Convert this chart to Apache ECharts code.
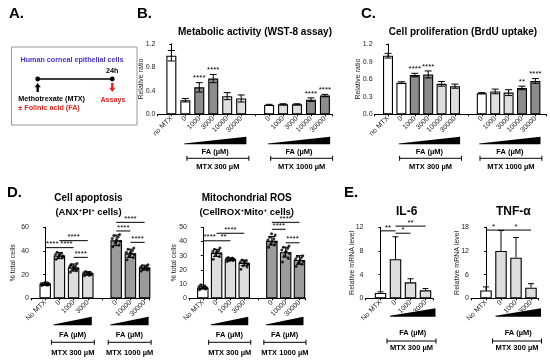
<!DOCTYPE html>
<html><head><meta charset="utf-8">
<script src="https://cdn.jsdelivr.net/npm/echarts@6/dist/echarts.min.js"></script>
<style>html,body{margin:0;padding:0;background:#fff}#c{width:550px;height:360px}</style>
</head><body><div id="c"></div>
<script>
// ---------------- DATA ----------------
// Panels B & C : categories (blank = gap between MTX groups)
const catsBC = ['no MTX','0','1000','3000','10000','30000','','0','1000','3000','10000','30000'];
const wstMean = [1.00,0.24,0.46,0.61,0.31,0.27,null,0.16,0.17,0.17,0.25,0.32];
const wstErr  = [0.09,0.03,0.08,0.07,0.06,0.06,null,0.01,0.01,0.01,0.03,0.02];
const wstSig  = ['','','****','****','','','','','','','****','****'];
const brduMean = [1.00,0.54,0.67,0.68,0.52,0.48,null,0.36,0.39,0.37,0.45,0.57];
const brduErr  = [0.04,0.015,0.03,0.06,0.04,0.035,null,0.01,0.04,0.05,0.03,0.04];
const brduSig  = ['','','****','****','','','','','','','**','****'];
const shadeBC  = ['w','w','d','d','l','l','','w','l','l','d','d'];
const yTicksB = [0,0.4,0.8,1.2];
const yTicksC = [0,0.3,0.6,0.9,1.2];

// Panel D
const catsD1 = ['No MTX','0','1000','3000','','0','10000','30000'];
const catsD2 = ['No MTX','0','1000','3000','','0','10000','30000'];
const apopMean = [12,36,26,21,null,49,38,26];
const apopSD   = [1,2.5,3,1.5,null,4.5,3.5,2];
const apopPts = [
  [10.8,11.3,11.8,12,12.2,12.6,13.1,11.6,12.4,13.4,11.2],
  [33,34.2,35,35.8,36.4,37,38,39,35.4,36.8],
  [22,23.2,24.1,25,25.8,26.6,27.4,28.3,29.5,26.2,24.6,27.9],
  [19,19.8,20.3,20.8,21.2,21.6,22.1,22.6,20.5,21.4,19.5],
  [],
  [43.5,45,46.8,48.2,49.5,50.6,51.8,52.9,54,47.6],
  [32.5,34.5,35.8,37,38,39,40.2,41.5,42.6,38.4],
  [23,24,24.6,25.2,25.8,26.4,27,27.6,28.3,25.5]
];
const apopSig = [[0,1,42.8,'****'],[1,2,42.8,'****'],[1,3,48.7,'****'],[2,3,34.6,'****'],
                 [5,7,64.2,'****'],[5,6,56.9,'****'],[6,7,47.3,'****']];
const rosMean = [7.5,32,27.5,25,null,40.5,32.5,27];
const rosSD   = [1,2.5,1,2,null,3,3.5,3];
const rosPts = [
  [6,6.5,7,7.4,7.8,8.2,8.8,9.5,7.2,7.9],
  [27.5,29.5,30.5,31.5,32,33,33.5,34.5,35.5,32.4],
  [26,26.6,27,27.3,27.7,28,28.3,28.8,27.5,26.8],
  [20.5,22,23,24,24.8,25.5,26.2,27,24.2,25.9],
  [],
  [36,37.5,38.5,39.5,40.2,41,42,43,44.5,45.5],
  [25.5,28,30,31.5,33,34,35,36,36.8,32.6],
  [22.5,24,25,26,26.8,27.6,28.5,29.5,30,24.6]
];
const rosSig = [[0,1,40.5,'****'],[1,2,40.5,'**'],[1,3,45.8,'****'],
                [5,7,53.5,'****'],[5,6,48.6,'****'],[6,7,39.1,'****']];

// Panel E
const catsE = ['No MTX','0','1000','3000'];
const il6Mean = [0.9,6.6,2.7,1.35];
const il6Err  = [0.2,3.8,0.6,0.3];
const il6Sig  = [[0,1,11.4,'**'],[1,2,11.0,'*'],[1,3,12.2,'**']];
const tnfMean = [2.0,12.0,10.3,2.7];
const tnfErr  = [0.9,5.2,5.1,1.0];
const tnfSig  = [[0,1,17.3,'*'],[1,3,17.3,'*']];

const faLabel = 'FA (\u00b5M)';
const mtxLabels = ['MTX 300 \u00b5M','MTX 1000 \u00b5M'];

// ---------------- STYLE / BUILD ----------------
const FAM = '"Liberation Sans", Arial, Helvetica, sans-serif';
const COLORS = {w:'#ffffff', l:'#dedede', d:'#8c8c8c', m:'#9c9c9c'};
const chart = echarts.init(document.getElementById('c'));

const grids = [
  {left:157.4, top:44, width:174.5, height:70.3},   // B
  {left:374.6, top:44, width:171.5, height:70.3},   // C
  {left:31,    top:227.3, width:118.3, height:71},  // D1
  {left:189,   top:227.3, width:116,   height:71},  // D2
  {left:365.5, top:227.3, width:67.5,  height:71},  // E1
  {left:471,   top:227.3, width:67.5,  height:71}   // E2
];
const xMax = [11.5, 11.8, 7.33, 7.4, 3.5, 3.5];
const xCats = [catsBC, catsBC, catsD1, catsD2, catsE, catsE];

function xAx(gi){
  const cats = xCats[gi];
  return {type:'value', gridIndex:gi, min:-1, max:xMax[gi], interval:1,
    axisLine:{show:true, onZero:false, lineStyle:{color:'#000', width:1}},
    axisTick:{show:true, length:2, lineStyle:{color:'#000', width:1}},
    splitLine:{show:false},
    axisLabel:{rotate:45, fontSize:7, color:'#222', margin:3, fontFamily:FAM,
      formatter:v => (Number.isInteger(v) && v>=0 && v<cats.length) ? cats[v] : ''}};
}
function yAx(gi, ticks, name, gap, dec){
  return {type:'value', gridIndex:gi, min:ticks[0], max:ticks[ticks.length-1], interval:ticks[1]-ticks[0],
    name, nameLocation:'middle', nameGap:gap, nameRotate:90, nameMoveOverlap:false,
    nameTextStyle:{fontSize:7, color:'#222', fontFamily:FAM},
    axisLine:{show:true, lineStyle:{color:'#000', width:1}},
    axisTick:{show:true, length:2, lineStyle:{color:'#000'}},
    splitLine:{show:false},
    axisLabel:{fontSize:7, color:'#222', margin:2, fontFamily:FAM,
      formatter:v => dec ? v.toFixed(dec) : String(v)}};
}
function barSeries(gi, means, shades, bw){
  const data = [];
  means.forEach((m,i)=>{ if(m!=null) data.push({value:[i,m], itemStyle:{color:COLORS[shades[i]]}}); });
  return {type:'bar', xAxisIndex:gi, yAxisIndex:gi, barWidth:bw, z:2, data,
    itemStyle:{borderColor:'#000', borderWidth:1.1}};
}
function errSeries(gi, means, errs, sigs, upperOnly, cap){
  const idx = []; means.forEach((m,i)=>{ if(m!=null) idx.push(i); });
  return {type:'custom', xAxisIndex:gi, yAxisIndex:gi, z:10, silent:true, clip:false,
    data: idx.map(i=>[i, means[i]]), encode:{x:0, y:1},
    renderItem:(params, api)=>{
      const i = idx[params.dataIndex], m = means[i], e = errs[i];
      const pT = api.coord([i, m+e]), pB = api.coord([i, upperOnly ? m : m-e]);
      const ls = {stroke:'#000', lineWidth:1};
      const ch = [
        {type:'line', shape:{x1:pT[0], y1:pT[1], x2:pB[0], y2:pB[1]}, style:ls},
        {type:'line', shape:{x1:pT[0]-cap, y1:pT[1], x2:pT[0]+cap, y2:pT[1]}, style:ls}];
      if(!upperOnly) ch.push({type:'line', shape:{x1:pB[0]-cap, y1:pB[1], x2:pB[0]+cap, y2:pB[1]}, style:ls});
      if(sigs && sigs[i]) ch.push({type:'text', style:{text:sigs[i], x:pT[0], y:pT[1]-0.5,
        align:'center', verticalAlign:'bottom', font:'8px '+FAM, fill:'#000'}});
      return {type:'group', children:ch};
    }};
}
function dotSeries(gi, pts){
  const jit = [-0.24,0.2,-0.08,0.28,0.04,-0.28,0.14,-0.16,0.24,-0.02,0.1,-0.2];
  const data = [];
  pts.forEach((arr,i)=>arr.forEach((v,k)=>data.push([i + jit[k%jit.length], v])));
  return {type:'scatter', xAxisIndex:gi, yAxisIndex:gi, z:6, symbolSize:3, silent:true,
    itemStyle:{color:'#000'}, data};
}
function sigSeries(gi, brs){
  return {type:'custom', xAxisIndex:gi, yAxisIndex:gi, z:11, silent:true, clip:false,
    data: brs.map(b=>[b[0], b[2]]), encode:{x:0, y:1},
    renderItem:(params, api)=>{
      const b = brs[params.dataIndex];
      const a = api.coord([b[0], b[2]]), c = api.coord([b[1], b[2]]);
      return {type:'group', children:[
        {type:'line', shape:{x1:a[0], y1:a[1], x2:c[0], y2:c[1]}, style:{stroke:'#000', lineWidth:1}},
        {type:'text', style:{text:b[3], x:(a[0]+c[0])/2, y:a[1]+0.5, align:'center', verticalAlign:'bottom',
          font:'8px '+FAM, fill:'#000'}}]};
    }};
}
function decorSeries(gi, groups, o){
  return {type:'custom', xAxisIndex:gi, yAxisIndex:gi, z:12, silent:true, clip:false,
    data: groups.map(g=>[g[0], 0]), encode:{x:0, y:1},
    renderItem:(params, api)=>{
      const g = groups[params.dataIndex];
      const p1 = api.coord([g[0], 0]), p2 = api.coord([g[1], 0]);
      const y0 = p1[1];
      const wl = p1[0]+o.wL, wr = p2[0]+o.wR, bl = p1[0]+o.bL, br = p2[0]+o.bR;
      const ls = {stroke:'#000', lineWidth:1};
      return {type:'group', children:[
        {type:'polygon', shape:{points:[[wl, y0+o.wBot-0.9],[wr, y0+o.wTop],[wr, y0+o.wBot],[wl, y0+o.wBot]]}, style:{fill:'#000'}},
        {type:'text', style:{text:faLabel, x:(wl+wr)/2, y:y0+o.fa, align:'center', verticalAlign:'middle',
          font:'bold 7.5px '+FAM, fill:'#000'}},
        {type:'line', shape:{x1:bl, y1:y0+o.br, x2:br, y2:y0+o.br}, style:ls},
        {type:'line', shape:{x1:bl, y1:y0+o.br-2.5, x2:bl, y2:y0+o.br+2.5}, style:ls},
        {type:'line', shape:{x1:br, y1:y0+o.br-2.5, x2:br, y2:y0+o.br+2.5}, style:ls},
        {type:'text', style:{text:g[2], x:(bl+br)/2, y:y0+o.mtx, align:'center', verticalAlign:'middle',
          font:'bold 7.5px '+FAM, fill:'#000'}}]};
    }};
}

const offB = {wL:-1.2, wR:5.2, bL:1.6, bR:7.7, wTop:22.4, wBot:30, fa:37.4, br:44, mtx:52.4};
const offC = {wL:-2.6, wR:5.1, bL:-1.8, bR:6.5, wTop:22.4, wBot:30, fa:37.4, br:44, mtx:52.4};
const offD = {wL:-6, wR:4, bL:-8, bR:6.5, wTop:18.4, wBot:27, fa:36.7, br:44, mtx:54.4};
const offE = {wL:-5.5, wR:10, bL:-8.5, bR:10.5, wTop:10, wBot:18.4, fa:35, br:42.7, mtx:50};

const supRich = {s:{fontSize:6, fontWeight:'bold', fontFamily:FAM, verticalAlign:'top', fill:'#000'}};
function txt(x, y, text, font, fill, align){
  return {type:'text', x, y, silent:true, style:{text, font, fill:fill||'#000', align:align||'center',
    textAlign:align||'center', verticalAlign:'middle', textVerticalAlign:'middle'}};
}
const graphic = [
  txt(9, 14, 'A.', 'bold 15px '+FAM, '#000', 'left'),
  txt(137, 14, 'B.', 'bold 15px '+FAM, '#000', 'left'),
  txt(361, 14, 'C.', 'bold 15px '+FAM, '#000', 'left'),
  txt(7, 193, 'D.', 'bold 15px '+FAM, '#000', 'left'),
  txt(344, 193, 'E.', 'bold 15px '+FAM, '#000', 'left'),
  txt(255, 32.5, 'Metabolic activity (WST-8 assay)', 'bold 10px '+FAM),
  txt(463, 32.5, 'Cell proliferation (BrdU uptake)', 'bold 10px '+FAM),
  txt(88.5, 198.5, 'Cell apoptosis', 'bold 10px '+FAM),
  {type:'text', x:88.5, y:212, silent:true, style:{text:'(ANX{s|+}PI{s|+} cells)', font:'bold 9.5px '+FAM,
    fill:'#000', align:'center', verticalAlign:'middle', rich:supRich}},
  txt(246.7, 198.5, 'Mitochondrial ROS', 'bold 10px '+FAM),
  {type:'text', x:246.7, y:212, silent:true, style:{text:'(CellROX{s|+}Mito{s|+} cells)', font:'bold 9.5px '+FAM,
    fill:'#000', align:'center', verticalAlign:'middle', rich:supRich}},
  txt(406.7, 211.5, 'IL-6', 'bold 12px '+FAM),
  txt(513.3, 211.5, 'TNF-\u03b1', 'bold 12px '+FAM),
  // Panel A schematic
  {type:'rect', silent:true, shape:{x:11.5, y:47, width:125.5, height:78}, style:{fill:'none', stroke:'#9a9a9a', lineWidth:1}},
  txt(72, 60, 'Human corneal epithelial cells', 'bold 7.2px '+FAM, '#4433dd'),
  {type:'line', silent:true, shape:{x1:37.7, y1:79, x2:112.3, y2:79}, style:{stroke:'#000', lineWidth:1.4}},
  {type:'circle', silent:true, shape:{cx:37.7, cy:79, r:2.4}, style:{fill:'#000'}},
  {type:'circle', silent:true, shape:{cx:112.3, cy:79, r:2.4}, style:{fill:'#000'}},
  txt(112.3, 71.5, '24h', 'bold 7.2px '+FAM),
  {type:'polygon', silent:true, shape:{points:[[37.7,83],[40.8,87.2],[38.9,87.2],[38.9,92],[36.5,92],[36.5,87.2],[34.6,87.2]]}, style:{fill:'#000'}},
  {type:'polygon', silent:true, shape:{points:[[112.3,92],[115.4,87.8],[113.5,87.8],[113.5,83],[111.1,83],[111.1,87.8],[109.2,87.8]]}, style:{fill:'#e8231f'}},
  txt(18.3, 99.3, 'Methotrexate (MTX)', 'bold 7.2px '+FAM, '#000', 'left'),
  txt(18.3, 108.5, '\u00b1 Folinic acid (FA)', 'bold 7.2px '+FAM, '#e8231f', 'left'),
  txt(113, 100, 'Assays', 'bold 7.2px '+FAM, '#e8231f')
];

const option = {
  animation:false,
  backgroundColor:'#fff',
  textStyle:{fontFamily:FAM},
  grid: grids.map(g=>Object.assign({containLabel:false}, g)),
  xAxis: [0,1,2,3,4,5].map(xAx),
  yAxis: [
    yAx(0, yTicksB, 'Relative ratio', 13, 1),
    yAx(1, yTicksC, 'Relative ratio', 13, 1),
    yAx(2, [0,20,40,60], '% total cells', 14.5, 0),
    yAx(3, [0,10,20,30,40,50], '% total cells', 11, 0),
    yAx(4, [0,4,8,12], 'Relative mRNA level', 10, 0),
    yAx(5, [0,6,12,18], 'Relative mRNA level', 10, 0)
  ],
  series: [
    barSeries(0, wstMean, shadeBC, 10),
    errSeries(0, wstMean, wstErr, wstSig, false, 3.5),
    decorSeries(0, [[1,5,mtxLabels[0]],[7,11,mtxLabels[1]]], offB),
    barSeries(1, brduMean, shadeBC, 10),
    errSeries(1, brduMean, brduErr, brduSig, false, 3.5),
    decorSeries(1, [[1,5,mtxLabels[0]],[7,11,mtxLabels[1]]], offC),
    barSeries(2, apopMean, ['w','l','l','l','','m','m','m'], 11.5),
    dotSeries(2, apopPts),
    errSeries(2, apopMean, apopSD, null, false, 3.5),
    sigSeries(2, apopSig),
    decorSeries(2, [[1,3,mtxLabels[0]],[5,7,mtxLabels[1]]], offD),
    barSeries(3, rosMean, ['w','l','l','l','','m','m','m'], 11.5),
    dotSeries(3, rosPts),
    errSeries(3, rosMean, rosSD, null, false, 3.5),
    sigSeries(3, rosSig),
    decorSeries(3, [[1,3,mtxLabels[0]],[5,7,mtxLabels[1]]], offD),
    barSeries(4, il6Mean, ['w','l','l','l'], 11.5),
    errSeries(4, il6Mean, il6Err, null, true, 3),
    sigSeries(4, il6Sig),
    decorSeries(4, [[1,3,mtxLabels[0]]], offE),
    barSeries(5, tnfMean, ['w','l','l','l'], 11.5),
    errSeries(5, tnfMean, tnfErr, null, true, 3),
    sigSeries(5, tnfSig),
    decorSeries(5, [[1,3,mtxLabels[0]]], offE)
  ],
  graphic
};
chart.setOption(option);
</script>
</body></html>
